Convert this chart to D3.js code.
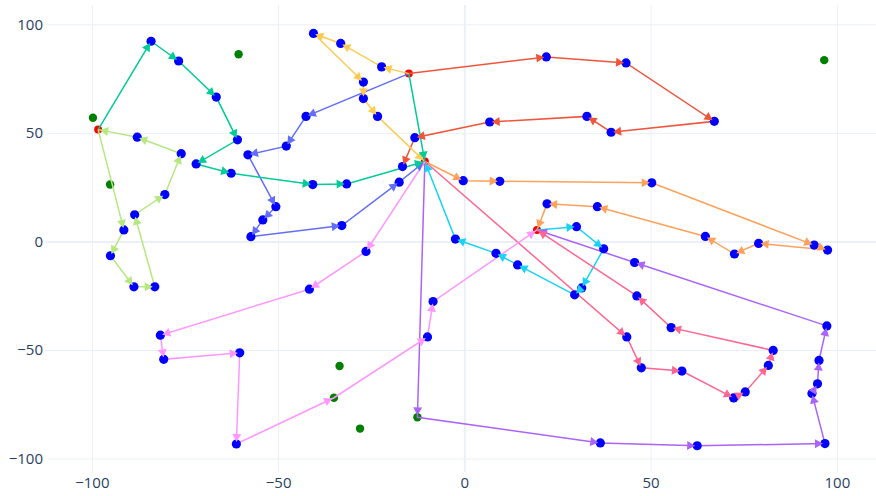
<!DOCTYPE html>
<html>
<head>
<meta charset="utf-8">
<script src="https://cdn.jsdelivr.net/npm/d3@7"></script>
<style>
body { margin: 0; background: #fff; }
</style>
</head>
<body>
<script>
// depots (red)
var depotA = [-98.3, 51.5],
    depotB = [-14.9, 77.3],
    depotC = [-10.6, 36.8],
    depotD = [19.5, 5.3]
var depots = [depotA, depotB, depotC, depotD]

// extra nodes drawn in green
var greenNodes = [[-99.7, 57.0], [-95.1, 26.2], [-60.6, 86.2], [96.6, 83.5],
    [-33.5, -57.4], [-35.0, -72.0], [-28.0, -86.2], [-12.6, -81.0]]

// routes, one colour each
var routeColors = ['#636efa', '#EF553B', '#00cc96', '#ab63fa', '#FFA15A',
    '#19d3f3', '#FF6692', '#B6E880', '#FF97FF', '#FECB52', '#00cc96']

var routes = [
    [depotB, [-42.5, 57.6], [-47.8, 43.9], [-58.1, 39.9], [-50.6, 16.0], [-54.1, 9.9], [-57.3, 2.2], [-32.9, 7.3], [-17.5, 27.3], depotC],
    [depotB, [22.0, 85.0], [43.4, 82.2], [67.1, 55.3], [39.4, 50.3], [32.9, 57.6], [6.8, 55.0], [-13.3, 47.8], [-16.6, 34.5]],
    [depotA, [-84.1, 92.2], [-76.7, 83.1], [-66.6, 66.5], [-60.9, 46.8], [-72.0, 35.7], [-62.6, 31.4], [-40.7, 26.2], [-31.6, 26.5], depotC],
    [depotC, [-12.6, -81.0], [36.5, -92.8], [62.5, -94.1], [96.8, -93.1], [93.3, -70.0], [94.8, -65.6], [95.2, -54.8], [97.3, -38.9], [45.7, -9.7], depotD],
    [depotC, [-0.3, 28.0], [9.5, 27.7], [50.3, 27.0], [93.9, -1.7], [97.5, -4.0], [79.0, -0.9], [72.5, -5.8], [64.7, 2.3], [35.7, 16.0], [22.2, 17.3], depotD],
    [depotD, [30.1, 6.8], [37.4, -3.4], [31.5, -21.4], [29.6, -24.6], [14.3, -10.8], [8.5, -5.5], [-2.4, 1.1], depotC],
    [depotC, [43.6, -44.0], [47.5, -58.2], [58.4, -59.7], [72.3, -72.1], [75.4, -69.3], [81.6, -57.1], [82.9, -50.2], [55.5, -39.7], [46.3, -25.1], depotD],
    [depotA, [-91.4, 5.3], [-95.0, -6.6], [-88.7, -20.9], [-83.1, -20.9], [-88.5, 12.3], [-80.4, 21.6], [-76.0, 40.4], [-87.8, 48.0], depotA],
    [depotC, [-26.4, -4.6], [-41.6, -22.0], [-81.6, -43.2], [-80.7, -54.3], [-60.3, -51.3], [-61.2, -93.3], [-35.0, -72.0], [-9.9, -44.0], [-8.4, -27.7], depotD],
    [depotB, [-22.2, 80.4], [-33.2, 91.2], [-40.5, 95.8], [-27.1, 73.4], [-27.1, 65.8], [-23.3, 57.6], depotC],
    [depotB, depotC]
]

var xTicks = [-100, -50, 0, 50, 100]
var yTicks = [-100, -50, 0, 50, 100]

var W = 876, H = 496
var plot = { left: 46, right: 876, top: 5, bottom: 472 }

var x = d3.scaleLinear().domain([-112.3, 110.5]).range([plot.left, plot.right])
var y = d3.scaleLinear().domain([-106.2, 108.9]).range([plot.bottom, plot.top])

var svg = d3.select('body').append('svg')
    .attr('width', W)
    .attr('height', H)

function styleAxis (g) {
    g.attr('font-size', 15).attr('font-family', '"Open Sans", sans-serif')
    g.select('.domain').remove()
    g.selectAll('.tick line')
        .attr('stroke', '#EBF0F8')
        .attr('stroke-width', d => d === 0 ? 2 : 1)
    g.selectAll('.tick text')
        .attr('fill', '#2a3f5f')
        .style('font-size', '15px')
}

// grid via axes
var gx = svg.append('g')
    .attr('transform', `translate(0, ${plot.bottom})`)
    .call(d3.axisBottom(x).tickValues(xTicks).tickSize(-(plot.bottom - plot.top)).tickPadding(6))
styleAxis(gx)
gx.selectAll('.tick text').attr('dy', null).attr('y', 16)

var gy = svg.append('g')
    .attr('transform', `translate(${plot.left}, 0)`)
    .call(d3.axisLeft(y).tickValues(yTicks).tickSize(-(plot.right - plot.left)).tickPadding(3))
styleAxis(gy)

// green nodes and depots under the routes
svg.append('g').selectAll('circle')
    .data(greenNodes)
    .enter().append('circle')
    .attr('cx', d => x(d[0]))
    .attr('cy', d => y(d[1]))
    .attr('r', 4.2)
    .attr('fill', '#008000')

svg.append('g').selectAll('circle')
    .data(depots)
    .enter().append('circle')
    .attr('cx', d => x(d[0]))
    .attr('cy', d => y(d[1]))
    .attr('r', 4)
    .attr('fill', '#ff0000')

// route lines
var line = d3.line().x(d => x(d[0])).y(d => y(d[1]))
svg.append('g').selectAll('path')
    .data(routes)
    .enter().append('path')
    .attr('d', line)
    .attr('fill', 'none')
    .attr('stroke', (d, i) => routeColors[i])
    .attr('stroke-width', 1.5)

// customers (blue), everything on a route that is not a depot or green node
var isSame = (a, b) => a[0] === b[0] && a[1] === b[1]
var customers = []
routes.forEach(r => r.forEach(p => {
    if (depots.some(q => isSame(p, q))) return
    if (greenNodes.some(q => isSame(p, q))) return
    if (customers.some(q => isSame(p, q))) return
    customers.push(p)
}))
svg.append('g').selectAll('circle')
    .data(customers)
    .enter().append('circle')
    .attr('cx', d => x(d[0]))
    .attr('cy', d => y(d[1]))
    .attr('r', 4.6)
    .attr('fill', '#0000ff')

// arrowheads pointing along each leg
var arrows = []
routes.forEach((r, i) => {
    for (let k = 1; k < r.length; k++) {
        let x0 = x(r[k - 1][0]), y0 = y(r[k - 1][1])
        let x1 = x(r[k][0]), y1 = y(r[k][1])
        arrows.push({ x: x1, y: y1, a: Math.atan2(y1 - y0, x1 - x0) * 180 / Math.PI, c: routeColors[i] })
    }
})
svg.append('g').selectAll('path')
    .data(arrows)
    .enter().append('path')
    .attr('d', 'M-2,0L-10,-4.5L-10,4.5Z')
    .attr('transform', d => `translate(${d.x}, ${d.y}) rotate(${d.a})`)
    .attr('fill', d => d.c)
</script>
</body>
</html>
